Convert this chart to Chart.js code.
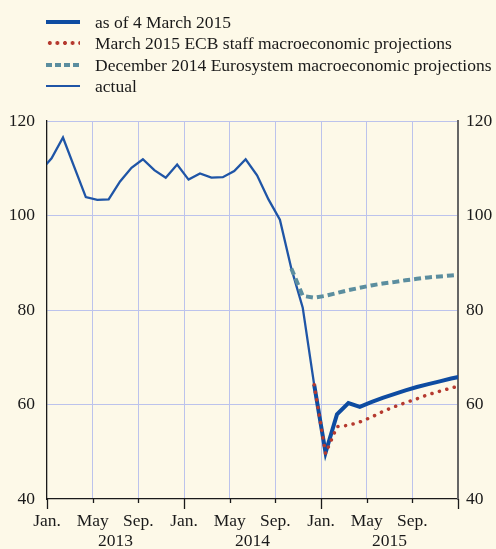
<!DOCTYPE html>
<html>
<head>
<meta charset="utf-8">
<script src="https://cdn.jsdelivr.net/npm/chart.js@4"></script>
<style>
  body { margin: 0; background: #fdf9e8; }
  #wrap { position: relative; width: 496px; height: 549px; background: #fdf9e8; font-family: "Liberation Serif", serif; color: #1a1a1a; }
  #myChart { position: absolute; left: 0; top: 0; }
  .item { position: absolute; left: 46px; height: 20px; font-size: 17.5px; line-height: 20px; }
  .item span { position: absolute; left: 49px; top: 0; white-space: nowrap; }
  .mark { position: absolute; left: 0; width: 34px; }
</style>
</head>
<body>
<div id="wrap">
  <canvas id="myChart" width="496" height="549"></canvas>
  <div id="legend"></div>
</div>
<script>
// months counted from January 2013 (0 = Jan 2013); points sit a bit into each month
let monthOffset = 0.4;

let actualMonths = [-1, 0, 1, 2, 3, 4, 5, 6, 7, 8, 9, 10, 11, 12, 13, 14, 15, 16, 17, 18, 19, 20, 21, 22, 23];
let actualValues = [109.4, 112.1, 116.5, 110.2, 103.9, 103.3, 103.4, 107.2, 110.1, 111.9, 109.6, 108.0, 110.8,
                    107.6, 108.9, 108.0, 108.1, 109.4, 111.9, 108.5, 103.4, 99.1, 88.8, 80.5, 64.2];

let futuresMonths = [23, 24, 25, 26, 27, 28, 29, 30, 31, 32, 33, 34, 35, 36];
let futuresValues = [64.2, 49.8, 57.9, 60.3, 59.5, 60.5, 61.4, 62.2, 63.0, 63.7, 64.3, 64.9, 65.5, 66.0];

let marchValues = [64.2, 49.6, 55.3, 55.6, 56.3, 57.3, 58.5, 59.5, 60.4, 61.2, 62.1, 62.8, 63.5, 64.1];

let decemberMonths = [21, 22, 23, 24, 25, 26, 27, 28, 29, 30, 31, 32, 33, 34, 35, 36];
let decemberValues = [88.8, 83.0, 82.6, 83.0, 83.6, 84.2, 84.7, 85.2, 85.6, 85.9, 86.3, 86.6, 86.9, 87.1, 87.3, 87.5];

let monthTicks = [0, 4, 8, 12, 16, 20, 24, 28, 32];
let monthLabels = ["Jan.", "May", "Sep.", "Jan.", "May", "Sep.", "Jan.", "May", "Sep."];
let years = ["2013", "2014", "2015"];
let yTicks = [40, 60, 80, 100, 120];

let legendItems = [
    { label: "as of 4 March 2015", css: "top:-2px;height:4px;background:#0e4ca1;" },
    { label: "March 2015 ECB staff macroeconomic projections",
      css: "top:-2px;height:4px;background:radial-gradient(circle, #b53a2f 1.8px, transparent 2.2px) 0 0/7.6px 4px repeat-x;" },
    { label: "December 2014 Eurosystem macroeconomic projections",
      css: "top:-2px;height:4px;background:repeating-linear-gradient(90deg, #5b8e9f 0 6px, transparent 6px 9px);" },
    { label: "actual", css: "top:-1px;height:2px;background:#1f55a6;" }
];

function pts(months, values) {
    return months.map((m, i) => ({ x: m + monthOffset, y: values[i] }));
}

function displayLegend() {
    let html = "";
    for (let i = 0; i < legendItems.length; i++) {
        html += `
            <div class="item" style="top:${12 + i * 21.3}px">
                <div class="mark" style="margin-top:10px;${legendItems[i].css}"></div>
                <span>${legendItems[i].label}</span>
            </div>`;
    }
    document.getElementById("legend").innerHTML = html;
}

const axisExtras = {
    id: 'axisExtras',
    afterDraw(chart) {
        const ctx = chart.ctx;
        const x = chart.scales.x;
        const bottom = chart.chartArea.bottom;
        ctx.save();
        ctx.strokeStyle = '#1a1a1a';
        ctx.lineWidth = 1.3;
        for (let m = 0; m <= 36; m += 4) {
            const px = Math.round(x.getPixelForValue(m)) + 0.5;
            const len = m % 12 === 0 ? 10 : 4;
            ctx.beginPath();
            ctx.moveTo(px, bottom);
            ctx.lineTo(px, bottom + len);
            ctx.stroke();
        }
        ctx.fillStyle = '#1a1a1a';
        ctx.font = '17.5px "Liberation Serif"';
        ctx.textAlign = 'center';
        ctx.textBaseline = 'middle';
        for (let i = 0; i < years.length; i++) {
            ctx.fillText(years[i], x.getPixelForValue(i * 12 + 6), 541);
        }
        ctx.restore();
    }
};

window.addEventListener("DOMContentLoaded", () => {
    displayLegend();

    const font = { family: 'Liberation Serif', size: 17.5 };
    const textColor = '#1a1a1a';
    const gridColor = '#bcc3ec';

    new Chart(document.getElementById('myChart'), {
        type: 'line',
        data: {
            datasets: [{
                label: 'March 2015 ECB staff macroeconomic projections',
                data: pts(futuresMonths, marchValues),
                borderColor: '#b53a2f',
                borderWidth: 3.5,
                borderDash: [0.1, 7.6],
                borderCapStyle: 'round',
                order: 0
            }, {
                label: 'December 2014 Eurosystem macroeconomic projections',
                data: pts(decemberMonths, decemberValues),
                borderColor: '#5b8e9f',
                borderWidth: 4,
                borderDash: [7, 4],
                order: 1
            }, {
                label: 'as of 4 March 2015',
                data: pts(futuresMonths, futuresValues),
                borderColor: '#0e4ca1',
                borderWidth: 4,
                order: 2
            }, {
                label: 'actual',
                data: pts(actualMonths, actualValues),
                borderColor: '#1f55a6',
                borderWidth: 2.3,
                order: 3
            }]
        },
        options: {
            responsive: false,
            animation: false,
            devicePixelRatio: 1,
            layout: { padding: { top: 121, left: 0, right: 0, bottom: 0 } },
            elements: { point: { radius: 0 }, line: { tension: 0 } },
            datasets: { line: { clip: 0 } },
            plugins: { legend: { display: false }, tooltip: { enabled: false } },
            scales: {
                x: {
                    type: 'linear',
                    min: 0,
                    max: 36,
                    afterBuildTicks: scale => { scale.ticks = monthTicks.map(v => ({ value: v })); },
                    afterFit: scale => { scale.height = 50; },
                    ticks: {
                        color: textColor,
                        font: font,
                        padding: 12,
                        maxRotation: 0,
                        autoSkip: false,
                        callback: (value) => monthLabels[monthTicks.indexOf(value)]
                    },
                    grid: {
                        drawTicks: false,
                        color: ctx => (ctx.tick && ctx.tick.value % 36 === 0) ? 'rgba(0,0,0,0)' : gridColor
                    },
                    border: { color: '#1a1a1a', width: 1.3 }
                },
                y: {
                    min: 40,
                    max: 120,
                    afterBuildTicks: scale => { scale.ticks = yTicks.map(v => ({ value: v })); },
                    afterFit: scale => { scale.width = 47; },
                    ticks: { color: textColor, font: font, padding: 12 },
                    grid: {
                        drawTicks: false,
                        color: ctx => (ctx.tick && ctx.tick.value === 40) ? 'rgba(0,0,0,0)' : gridColor
                    },
                    border: { color: '#1a1a1a', width: 1.3 }
                },
                y2: {
                    position: 'right',
                    min: 40,
                    max: 120,
                    afterBuildTicks: scale => { scale.ticks = yTicks.map(v => ({ value: v })); },
                    afterFit: scale => { scale.width = 38; },
                    ticks: { color: textColor, font: font, padding: 8 },
                    grid: { drawOnChartArea: false, drawTicks: false },
                    border: { color: '#666666', width: 2 }
                }
            }
        },
        plugins: [axisExtras]
    });
});
</script>
</body>
</html>
